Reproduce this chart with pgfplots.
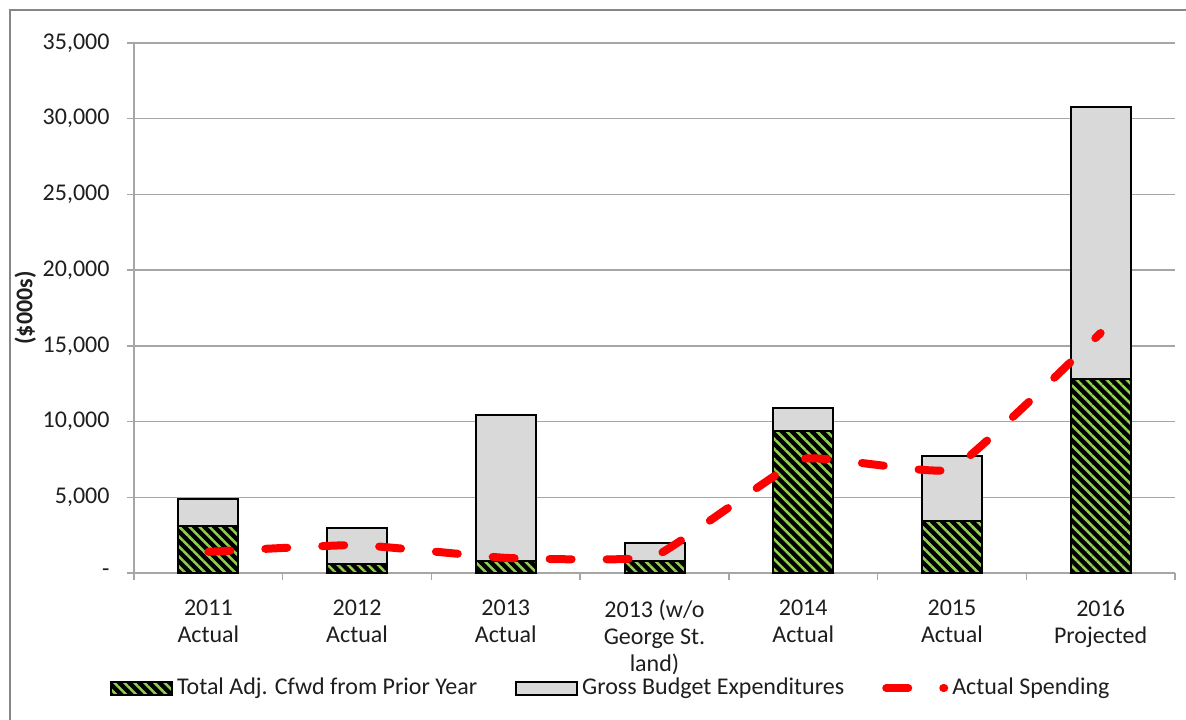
\documentclass[border=0pt]{standalone}
\usepackage{fontspec}
\setmainfont{Carlito}
\usepackage{pgfplots}
\usepackage{pgfplotstable}
\pgfplotsset{compat=1.18}
\usetikzlibrary{patterns.meta}
\definecolor{hatchgreen}{RGB}{146,208,80}
\definecolor{barGray}{RGB}{217,217,217}
\definecolor{gridGray}{RGB}{166,166,166}
\definecolor{frameGray}{RGB}{134,134,134}
\definecolor{txt}{RGB}{30,30,30}

\pgfplotstableread{
x green
0 3120
1 590
2 790
3 790
4 9380
5 3430
6 12790
}\greentable
\pgfplotstableread{
x total
0 4890
1 2990
2 10440
3 1960
4 10920
5 7730
6 30780
}\totaltable
\pgfplotstableread{
x spend
0 1400
1 1850
2 1000
3 1100
4 7530
5 6850
6 15850
}\spendtable

\pgfplotsset{
  greenbar/.style={draw=black, line width=1pt, fill=black,
    postaction={pattern={Lines[angle=-45,distance=3.55pt,line width=1.25pt]}, pattern color=hatchgreen}},
  graybar/.style={draw=black, line width=1pt, fill=barGray},
  barlegend/.style={legend image code/.code={\draw[##1] (0pt,-3.25pt) rectangle (30.5pt,3.25pt);}},
  linelegend/.style={legend image code/.code={\draw[##1] (0pt,0pt) -- (29pt,0pt);}},
}

\begin{document}
\begin{tikzpicture}
\useasboundingbox (0,0) rectangle (593pt,359.5pt);
\draw[frameGray, line width=1.2pt] (5pt,-5pt) -- (5pt,354.5pt) -- (600pt,354.5pt);
\begin{axis}[
  at={(67pt,73pt)}, anchor=south west,
  scale only axis, width=520.5pt, height=265pt,
  xmin=-0.5, xmax=6.5, ymin=0, ymax=35000,
  scaled y ticks=false,
  axis x line*=bottom, axis y line*=left,
  axis line style={gridGray, line width=0.75pt, -},
  ymajorgrids, grid style={gridGray, line width=0.75pt},
  ytick={0,5000,10000,15000,20000,25000,30000,35000},
  yticklabels={-,{5,000},{10,000},{15,000},{20,000},{25,000},{30,000},{35,000}},
  xtick={0,1,2,3,4,5,6},
  xticklabels={{2011\\Actual},{2012\\Actual},{2013\\Actual},{2013 (w/o\\George St.\\land)},{2014\\Actual},{2015\\Actual},{2016\\Projected}},
  minor xtick={-0.5,0.5,1.5,2.5,3.5,4.5,5.5,6.5},
  tick align=outside,
  major tick length=3.5pt, minor tick length=3.5pt,
  tick style={gridGray, line width=0.75pt},
  major x tick style={draw=none},
  /pgf/number format/assume math mode=true,
  ticklabel style={font=\fontsize{12}{13.5}\selectfont, text=txt},
  xticklabel style={align=center, yshift=-6.5pt},
  yticklabel style={xshift=-5.2pt},
  ylabel={(\$000s)},
  every axis y label/.style={at={(axis description cs:-0.1045,0.5)}, rotate=90, anchor=center,
    font=\fontsize{12}{13.5}\selectfont\bfseries, text=txt},
  legend style={draw=none, fill=none, legend columns=3,
    font=\fontsize{12}{13.5}\selectfont, text=txt,
    at={(axis description cs:0.459,-0.217)}, anchor=center,
    /tikz/every even column/.append style={column sep=17pt}},
]
\addplot[ybar, bar width=30pt, bar shift=0pt, graybar, forget plot] table[x=x,y=total] {\totaltable};
\addplot[ybar, bar width=30pt, bar shift=0pt, greenbar, forget plot] table[x=x,y=green] {\greentable};
\addlegendimage{greenbar, barlegend}
\addlegendentry{Total Adj. Cfwd from Prior Year}
\addlegendimage{graybar, barlegend}
\addlegendentry{Gross Budget Expenditures}
\addplot[red, line width=4pt, dash pattern=on 11pt off 17.5pt, line cap=round, line join=round,
  smooth, tension=0.2, linelegend] table[x=x,y=spend] {\spendtable};
\addlegendentry{Actual Spending}
\end{axis}
\end{tikzpicture}
\end{document}
